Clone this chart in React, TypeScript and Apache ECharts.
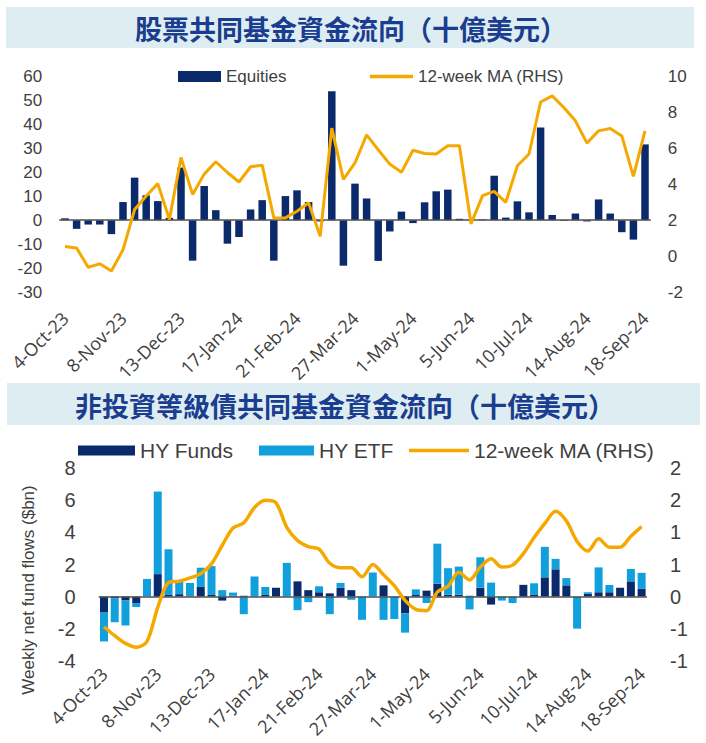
import React, { useEffect, useRef } from "react";
import * as echarts from "echarts";

const dates = [
  "4-Oct-23", "11-Oct-23", "18-Oct-23", "25-Oct-23", "1-Nov-23", "8-Nov-23", "15-Nov-23", "22-Nov-23", "29-Nov-23",
  "6-Dec-23", "13-Dec-23", "20-Dec-23", "27-Dec-23", "3-Jan-24", "10-Jan-24", "17-Jan-24", "24-Jan-24", "31-Jan-24",
  "7-Feb-24", "14-Feb-24", "21-Feb-24", "28-Feb-24", "6-Mar-24", "13-Mar-24", "20-Mar-24", "27-Mar-24", "3-Apr-24",
  "10-Apr-24", "17-Apr-24", "24-Apr-24", "1-May-24", "8-May-24", "15-May-24", "22-May-24", "29-May-24", "5-Jun-24",
  "12-Jun-24", "19-Jun-24", "26-Jun-24", "3-Jul-24", "10-Jul-24", "17-Jul-24", "24-Jul-24", "31-Jul-24", "7-Aug-24",
  "14-Aug-24", "21-Aug-24", "28-Aug-24", "4-Sep-24", "11-Sep-24", "18-Sep-24",
];

const equities = [
  0.8, -3.6, -1.8, -1.8, -5.8, 7.6, 17.8, 10.4, 8.0, 1.0, 22.0, -16.9, 14.3, 4.2, -9.8, -7.0, 4.5, 8.4, -16.9, 10.1,
  12.5, 7.6, -0.5, 53.9, -19.0, 15.3, 9.1, -17.0, -4.7, 3.6, -1.2, 7.5, 12.1, 12.8, 0.6, 0.2, 0.3, 18.6, 1.1, 7.9,
  3.3, 38.8, 2.2, -0.3, 2.8, -0.5, 8.7, 2.8, -5.0, -8.1, 31.7,
];

const equitiesMA = [
  0.54, 0.45, -0.62, -0.43, -0.83, 0.35, 2.6, 3.35, 4.04, 2.04, 5.5, 3.44, 4.57, 5.26, 4.66, 4.13, 4.98, 5.07, 2.13,
  2.13, 2.5, 2.97, 1.1, 7.13, 4.28, 5.2, 6.76, 5.93, 5.13, 4.67, 5.9, 5.72, 5.69, 6.15, 6.15, 1.8, 3.37, 3.61, 3.0,
  5.04, 5.69, 8.59, 8.93, 8.28, 7.54, 6.3, 6.98, 7.11, 6.7, 4.44, 6.98,
];

const hyFunds = [
  -1.0, -0.1, -0.25, -0.4, 0, 1.4, 0.1, 0.15, 0, 0.6, 0.1, -0.25, 0.05, 0.05, 0, 0.1, 0.55, 0, 0.95, 0.4, 0.27, 0.2,
  0.55, 0.4, 0, 0, 0.7, 0, -1.05, 0.1, 0.37, 0.8, 0.12, 0.12, 0.05, 0.55, -0.5, 0, 0, 0.73, 0.1, 1.2, 1.7, 0.7, 0,
  0.17, 0.27, 0.27, 0.55, 0.95, 0.48,
];

const hyEtf = [
  -1.8, -1.5, -1.55, -0.25, 1.1, 5.15, 2.85, 0.85, 0.85, 1.2, 1.8, 0.4, 0.2, -1.1, 1.25, 0.5, 0, 2.1, -0.85, -0.35,
  0.37, -1.1, 0.3, -0.2, -1.45, 1.5, -1.45, -1.4, -1.2, 0.35, -0.4, 2.5, 1.65, 1.75, -0.8, 1.9, 0.87, -0.25, -0.4, 0,
  0.73, 1.9, 0.65, 0.45, -2.0, 0.1, 1.55, 0.45, 0, 0.77, 1.0,
];

const hyMA = [
  -0.47, -0.61, -0.73, -0.79, -0.7, -0.17, 0.22, 0.24, 0.29, 0.36, 0.51, 0.8, 1.07, 1.15, 1.39, 1.5, 1.46, 1.08, 0.875,
  0.78, 0.74, 0.52, 0.45, 0.45, 0.31, 0.5, 0.34, 0.17, -0.06, -0.2, -0.22, 0.07, 0.16, 0.38, 0.26, 0.46, 0.59, 0.46,
  0.49, 0.67, 0.92, 1.14, 1.33, 1.18, 0.86, 0.71, 0.9, 0.77, 0.77, 0.94, 1.09,
];

const title1 = "股票共同基金資金流向（十億美元）";
const title2 = "非投資等級債共同基金資金流向（十億美元）";
const yName2 = "Weekly net fund flows ($bn)";

const NAVY = "#0b2a6b";
const ORANGE = "#f5a800";
const LIGHT = "#12a0dc";
const TEXT = "#404040";
const BANNER = "#deedf2";
const TITLE = "#1b3d8f";
const FONT = "Liberation Sans";

function roundHalfAway(v: number) {
  const r = Math.sign(v) * Math.round(Math.abs(v));
  return String(r === 0 ? 0 : r);
}

export default function App() {
  const ref = useRef<HTMLDivElement>(null);
  useEffect(() => {
    document.body.style.margin = "0";
    const chart = echarts.init(ref.current!, null, { renderer: "svg" });
    const zeroLine = {
      silent: true,
      symbol: "none",
      label: { show: false },
      lineStyle: { color: "#505050", width: 1.5, type: "solid" },
      data: [{ yAxis: 0 }],
    };
    const titleStyle = {
      fontSize: 27,
      fontWeight: "bold",
      fontFamily: "Noto Sans CJK TC",
      fill: TITLE,
      align: "center",
      verticalAlign: "middle",
    };
    chart.setOption({
      animation: false,
      textStyle: { fontFamily: FONT },
      graphic: [
        { type: "rect", shape: { x: 6, y: 7, width: 688, height: 41 }, style: { fill: BANNER } },
        { type: "text", x: 351, y: 28, style: { ...titleStyle, text: title1 } },
        { type: "rect", shape: { x: 7, y: 383, width: 693, height: 42 }, style: { fill: BANNER } },
        { type: "text", x: 345, y: 405, style: { ...titleStyle, text: title2 } },
        {
          type: "text",
          x: 28,
          y: 590,
          rotation: Math.PI / 2,
          style: {
            text: yName2,
            fontSize: 17,
            fontFamily: FONT,
            fill: TEXT,
            align: "center",
            verticalAlign: "middle",
          },
        },
      ],
      legend: [
        {
          data: ["Equities"],
          left: 173,
          top: 63,
          itemWidth: 43,
          itemHeight: 11,
          icon: "rect",
          textStyle: { fontSize: 17, color: TEXT, fontFamily: FONT },
        },
        {
          data: ["12-week MA (RHS)"],
          left: 365,
          top: 63,
          itemWidth: 43,
          itemHeight: 3.5,
          icon: "rect",
          textStyle: { fontSize: 17, color: TEXT, fontFamily: FONT },
        },
        {
          data: ["HY Funds"],
          left: 73,
          top: 435,
          itemWidth: 57,
          itemHeight: 10,
          icon: "rect",
          textStyle: { fontSize: 21, color: TEXT, fontFamily: FONT },
        },
        {
          data: ["HY ETF"],
          left: 254,
          top: 435,
          itemWidth: 55,
          itemHeight: 10,
          icon: "rect",
          textStyle: { fontSize: 21, color: TEXT, fontFamily: FONT },
        },
        {
          data: ["HY 12-week MA"],
          left: 404,
          top: 435,
          itemWidth: 60,
          itemHeight: 3.5,
          icon: "rect",
          formatter: () => "12-week MA (RHS)",
          textStyle: { fontSize: 21, color: TEXT, fontFamily: FONT },
        },
      ],
      grid: [
        { left: 59.2, top: 76.7, width: 591.6, height: 215.3, outerBoundsMode: "none", containLabel: false },
        { left: 98.6, top: 468.3, width: 548.4, height: 192.4, outerBoundsMode: "none", containLabel: false },
      ],
      xAxis: [
        {
          type: "category",
          gridIndex: 0,
          data: dates,
          axisLine: { show: false, onZero: false },
          axisTick: { show: false },
          splitLine: { show: false },
          axisLabel: { interval: 4, rotate: 45, margin: 23, fontSize: 18, fontFamily: "Open Sans", color: TEXT },
        },
        {
          type: "category",
          gridIndex: 1,
          data: dates,
          axisLine: { show: false, onZero: false },
          axisTick: { show: false },
          splitLine: { show: false },
          axisLabel: { interval: 4, rotate: 45, margin: 10, fontSize: 18, fontFamily: "Open Sans", color: TEXT },
        },
      ],
      yAxis: [
        {
          type: "value",
          gridIndex: 0,
          min: -30,
          max: 60,
          interval: 10,
          axisLine: { show: false },
          axisTick: { show: false },
          splitLine: { show: false },
          axisLabel: { fontSize: 17, color: TEXT, margin: 17 },
        },
        {
          type: "value",
          gridIndex: 0,
          position: "right",
          min: -2,
          max: 10,
          interval: 2,
          axisLine: { show: false },
          axisTick: { show: false },
          splitLine: { show: false },
          axisLabel: { fontSize: 17, color: TEXT, margin: 17 },
        },
        {
          type: "value",
          gridIndex: 1,
          min: -4,
          max: 8,
          interval: 2,
          axisLine: { show: false },
          axisTick: { show: false },
          splitLine: { show: false },
          axisLabel: { fontSize: 20, color: TEXT, margin: 23 },
        },
        {
          type: "value",
          gridIndex: 1,
          position: "right",
          min: -1,
          max: 2,
          interval: 0.5,
          axisLine: { show: false },
          axisTick: { show: false },
          splitLine: { show: false },
          axisLabel: { fontSize: 20, color: TEXT, margin: 23, formatter: roundHalfAway },
        },
      ],
      series: [
        {
          name: "Equities",
          type: "bar",
          xAxisIndex: 0,
          yAxisIndex: 0,
          data: equities,
          barWidth: 7.5,
          itemStyle: { color: NAVY },
          markLine: zeroLine,
        },
        {
          name: "12-week MA (RHS)",
          type: "line",
          xAxisIndex: 0,
          yAxisIndex: 1,
          data: equitiesMA,
          symbol: "none",
          z: 5,
          itemStyle: { color: ORANGE },
          lineStyle: { color: ORANGE, width: 3 },
        },
        {
          name: "HY Funds",
          type: "bar",
          xAxisIndex: 1,
          yAxisIndex: 2,
          stack: "hy",
          data: hyFunds,
          barWidth: 8,
          itemStyle: { color: NAVY },
        },
        {
          name: "HY ETF",
          type: "bar",
          xAxisIndex: 1,
          yAxisIndex: 2,
          stack: "hy",
          data: hyEtf,
          barWidth: 8,
          itemStyle: { color: LIGHT },
          markLine: zeroLine,
        },
        {
          name: "HY 12-week MA",
          type: "line",
          xAxisIndex: 1,
          yAxisIndex: 3,
          data: hyMA,
          symbol: "none",
          smooth: 0.3,
          z: 5,
          itemStyle: { color: ORANGE },
          lineStyle: { color: ORANGE, width: 3.5 },
        },
      ],
    });
    return () => chart.dispose();
  }, []);
  return <div ref={ref} style={{ width: 706, height: 743 }} />;
}
